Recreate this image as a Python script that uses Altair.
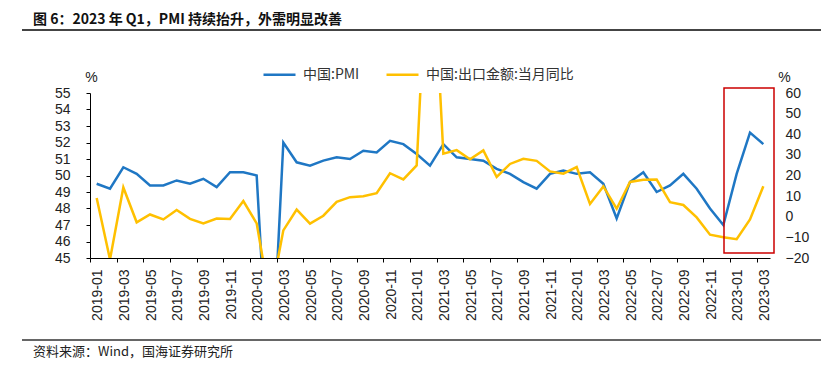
import altair as alt
import pandas as pd

months = [
    "2019-01", "2019-02", "2019-03", "2019-04", "2019-05", "2019-06",
    "2019-07", "2019-08", "2019-09", "2019-10", "2019-11", "2019-12",
    "2020-01", "2020-02", "2020-03", "2020-04", "2020-05", "2020-06",
    "2020-07", "2020-08", "2020-09", "2020-10", "2020-11", "2020-12",
    "2021-01", "2021-02", "2021-03", "2021-04", "2021-05", "2021-06",
    "2021-07", "2021-08", "2021-09", "2021-10", "2021-11", "2021-12",
    "2022-01", "2022-02", "2022-03", "2022-04", "2022-05", "2022-06",
    "2022-07", "2022-08", "2022-09", "2022-10", "2022-11", "2022-12",
    "2023-01", "2023-02", "2023-03",
]
pmi = [
    49.5, 49.2, 50.5, 50.1, 49.4, 49.4, 49.7, 49.5, 49.8, 49.3, 50.2, 50.2,
    50.0, 35.7, 52.0, 50.8, 50.6, 50.9, 51.1, 51.0, 51.5, 51.4, 52.1, 51.9,
    51.3, 50.6, 51.9, 51.1, 51.0, 50.9, 50.4, 50.1, 49.6, 49.2, 50.1, 50.3,
    50.1, 50.2, 49.5, 47.4, 49.6, 50.2, 49.0, 49.4, 50.1, 49.2, 48.0, 47.0,
    50.1, 52.6, 51.9,
]
export_yoy = [
    9.1, -20.7, 14.2, -2.7, 1.1, -1.3, 3.3, -1.0, -3.2, -0.9, -1.1, 7.6,
    -3.2, -40.6, -6.6, 3.5, -3.3, 0.5, 7.2, 9.5, 9.9, 11.4, 21.1, 18.1,
    24.9, 154.9, 30.6, 32.3, 27.9, 32.2, 19.3, 25.6, 28.1, 27.1, 22.0, 20.9,
    24.1, 6.2, 14.7, 3.9, 16.9, 17.9, 18.0, 7.1, 5.7, -0.3, -8.7, -9.9,
    -10.9, -1.3, 14.8,
]
series_names = ["中国:PMI", "中国:出口金额:当月同比"]
series_colors = ["#1f77c4", "#ffc000"]
left_ticks = [45, 46, 47, 48, 49, 50, 51, 52, 53, 54, 55]
right_ticks = [-20, -10, 0, 10, 20, 30, 40, 50, 60]
title_text = "图 6：2023 年 Q1，PMI 持续抬升，外需明显改善"
source_text = "资料来源：Wind，国海证券研究所"
box_x = [47.05, 50.8]
box_y = [45.3, 55.3]

idx = list(range(len(months)))
df_pmi = pd.DataFrame({"i": idx, "month": months, "v": pmi, "series": series_names[0]})
df_exp = pd.DataFrame({"i": idx, "month": months, "v": export_yoy, "series": series_names[1]})

W, H = 680, 165
step = W / 51.0

label_expr = "[" + ",".join(f"'{m}'" for m in months) + "][datum.value]"

x_axis = alt.Axis(
    values=list(range(0, 51, 2)),
    labelExpr=label_expr,
    labelAngle=-90,
    labelOverlap=False,
    labelBound=False,
    labelFlush=False,
    tickOffset=-step / 2,
    labelOffset=step / 2 + 1,
    grid=False,
    title=None,
    tickSize=4,
    tickColor="#000",
    domainColor="#000",
    labelFontSize=14,
    labelPadding=7,
    labelColor="#222",
    labelFont="Liberation Sans",
)
x_scale = alt.Scale(domain=[-0.5, 50.5], nice=False, zero=False)
x_enc = alt.X("i:Q", scale=x_scale, axis=x_axis)

color_enc = alt.Color(
    "series:N",
    scale=alt.Scale(domain=series_names, range=series_colors),
    legend=alt.Legend(
        orient="none",
        legendX=172,
        legendY=-36,
        direction="horizontal",
        title=None,
        symbolType="stroke",
        symbolSize=1024,
        symbolStrokeWidth=2.5,
        labelFont="Noto Sans CJK SC",
        labelFontSize=14,
        labelColor="#333",
        labelOffset=6,
        columnPadding=21,
        padding=0,
    ),
)

left = alt.Chart(df_pmi).mark_line(strokeWidth=2.5, clip=True).encode(
    x=x_enc,
    y=alt.Y(
        "v:Q",
        scale=alt.Scale(domain=[45, 55], nice=False, zero=False),
        axis=alt.Axis(
            values=left_ticks,
            title="%",
            titleAngle=0,
            titleX=1,
            titleY=-16,
            titleAlign="center",
            titleBaseline="middle",
            titleFont="Liberation Sans",
            titleFontSize=14,
            titleFontWeight="normal",
            titleColor="#222",
            grid=False,
            tickSize=4,
            tickColor="#000",
            domainColor="#000",
            labelPadding=16,
            labelFontSize=14,
            labelColor="#222",
            labelFont="Liberation Sans",
        ),
    ),
    color=color_enc,
)

right = alt.Chart(df_exp).mark_line(strokeWidth=2.5, clip=True).encode(
    x=x_enc,
    y=alt.Y(
        "v:Q",
        scale=alt.Scale(domain=[-20, 60], nice=False, zero=False),
        axis=alt.Axis(
            orient="right",
            values=right_ticks,
            title="%",
            titleAngle=0,
            titleX=14,
            titleY=-16,
            titleAlign="center",
            titleBaseline="middle",
            titleFont="Liberation Sans",
            titleFontSize=14,
            titleFontWeight="normal",
            titleColor="#222",
            grid=False,
            ticks=False,
            domain=False,
            labelPadding=15,
            labelFontSize=14,
            labelColor="#222",
            labelFont="Liberation Sans",
        ),
    ),
    color=color_enc,
)

box = alt.Chart(pd.DataFrame({"x1": [box_x[0]], "x2": [box_x[1]], "y1": [box_y[0]], "y2": [box_y[1]]})).mark_rect(
    fill=None, stroke="#cc0000", strokeWidth=1.5, clip=False
).encode(
    x=alt.X("x1:Q", scale=x_scale, axis=x_axis),
    x2="x2:Q",
    y=alt.Y("y1:Q", scale=alt.Scale(domain=[45, 55], nice=False, zero=False), axis=None),
    y2="y2:Q",
)

title = alt.Chart(pd.DataFrame({"t": [title_text]})).mark_text(
    align="left", baseline="top", font="Noto Sans CJK SC", fontSize=14, fontWeight="bold", color="#111"
).encode(text="t:N", x=alt.value(-57), y=alt.value(-80))

source = alt.Chart(pd.DataFrame({"t": [source_text]})).mark_text(
    align="left", baseline="middle", font="Noto Sans CJK SC", fontSize=13, color="#222"
).encode(text="t:N", x=alt.value(-57), y=alt.value(259))

top_rule = alt.Chart(pd.DataFrame({"a": [0]})).mark_rule(color="#444", strokeWidth=2).encode(
    x=alt.value(-68), x2=alt.value(738), y=alt.value(-63)
)
bottom_rule = alt.Chart(pd.DataFrame({"a": [0]})).mark_rule(color="#333", strokeWidth=1.5).encode(
    x=alt.value(-68), x2=alt.value(738), y=alt.value(247)
)

chart = alt.layer(left, right, box, title, source, top_rule, bottom_rule).resolve_scale(
    y="independent"
).properties(
    width=W,
    height=H,
    autosize=alt.AutoSizeParams(type="none"),
    padding={"left": 82, "top": 85, "right": 51, "bottom": 105},
).configure_view(stroke=None).configure_axisX(labelOverlap=False)

chart.save("out.html", embed_options={"renderer": "svg", "actions": False})
